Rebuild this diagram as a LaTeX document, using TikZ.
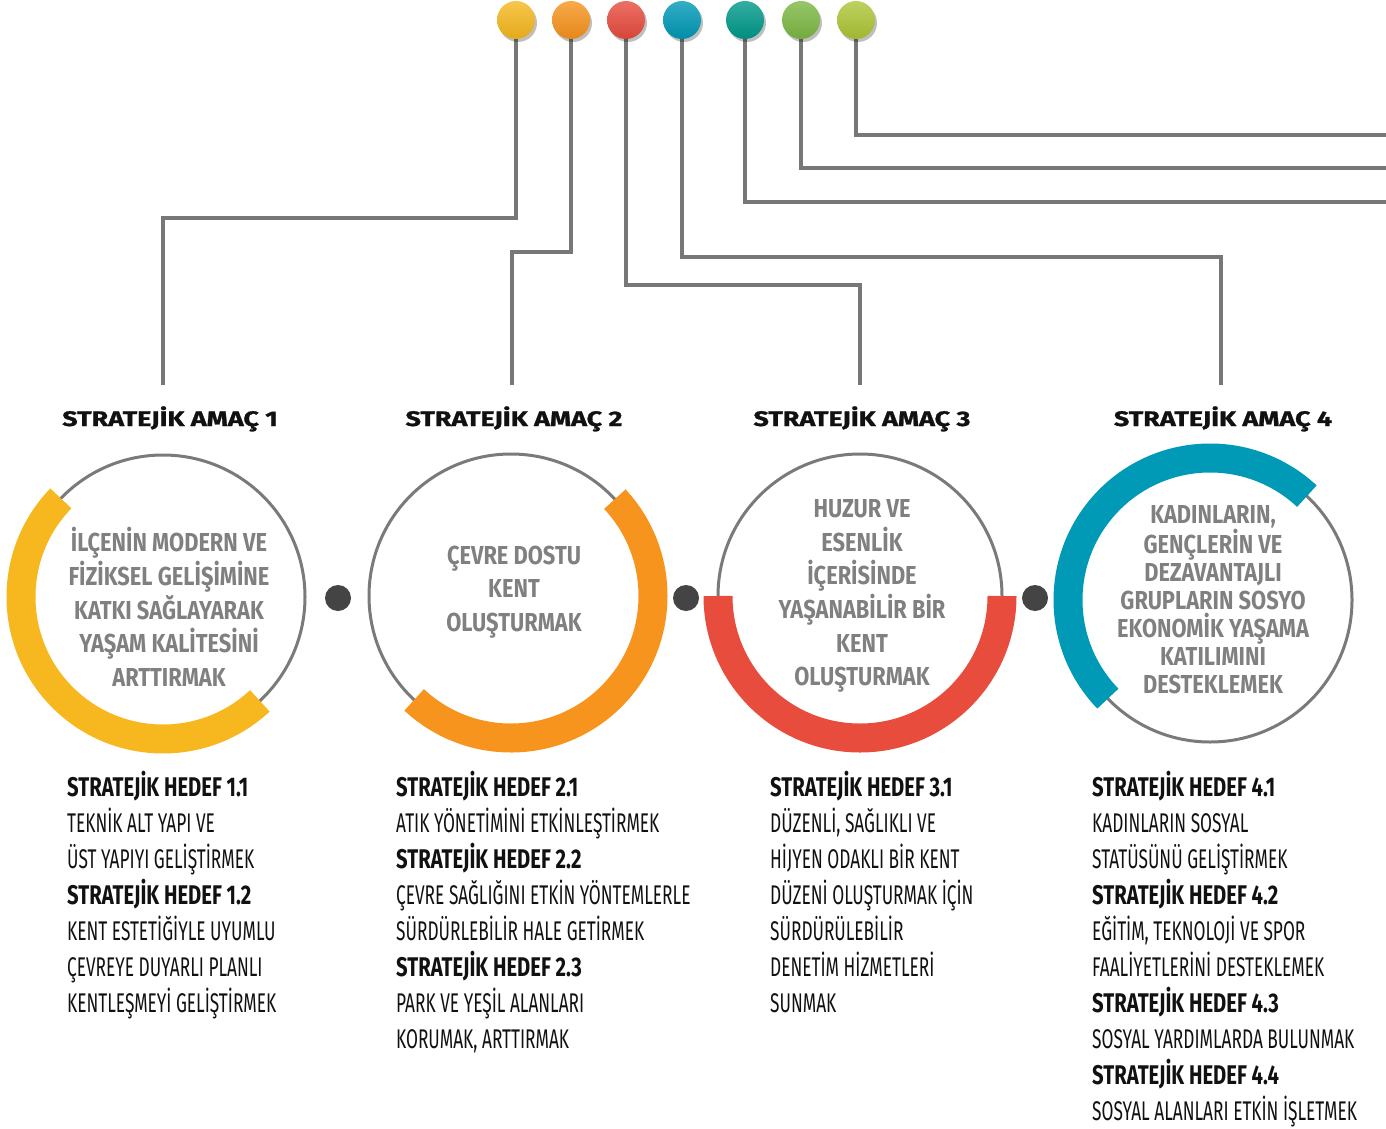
\documentclass[tikz,border=0pt]{standalone}
\usepackage{fontspec}
\setmainfont{Fira Sans}
\newfontfamily\narrowfont{Fira Sans}[FakeStretch=0.64]
\newfontfamily\hedeffont{Fira Sans}[FakeStretch=0.75]
\newfontfamily\ringfont{Fira Sans}[FakeStretch=0.84]
\newfontfamily\headfont{Fira Sans}[FakeStretch=1.28, FakeBold=1.2]
\usetikzlibrary{backgrounds,shadows}

\definecolor{wiregray}{HTML}{777777}
\definecolor{ringgray}{HTML}{7A7A7A}
\definecolor{textgray}{HTML}{808080}
\definecolor{dotgray}{HTML}{444444}
\definecolor{inkblack}{HTML}{111111}
\definecolor{amacA}{HTML}{F6B81E}
\definecolor{amacB}{HTML}{F7941D}
\definecolor{amacC}{HTML}{E84C3D}
\definecolor{amacD}{HTML}{0099B6}
\definecolor{tealk}{HTML}{00998A}
\definecolor{greenk}{HTML}{7DB843}
\definecolor{limek}{HTML}{ADC636}

\newcommand{\hedef}[1]{{\hedeffont\bfseries #1}}

\tikzset{
  knob/.style={circle, minimum size=38pt, inner sep=0pt,
    top color=#1!80!white, bottom color=#1!92!black,
    drop shadow={shadow xshift=2pt, shadow yshift=-3pt, opacity=0.25, fill=black}},
  wire/.style={draw=wiregray, line width=4pt},
  goalcircle/.style={circle, draw=ringgray, line width=3pt, minimum size=284pt, inner sep=0pt},
  ring/.style={draw=#1, line width=29pt},
  hub/.style={circle, fill=dotgray, minimum size=26pt, inner sep=0pt},
  goaltitle/.style={anchor=base, inner sep=0pt, text=inkblack,
    font=\headfont\bfseries\fontsize{21}{24}\selectfont},
  ringtext/.style={align=center, inner sep=0pt, text=textgray,
    font=\ringfont\bfseries\fontsize{26}{33.7}\selectfont},
  targets/.style={anchor=north west, align=left, inner sep=0pt, text=inkblack,
    font=\narrowfont\fontsize{27}{36}\selectfont}
}

\begin{document}
\begin{tikzpicture}[x=1pt, y=1pt]
	\useasboundingbox (0,0) rectangle (1386,-1129);
	
	% knobs on top
	\node[knob=amacA] (knob1) at (516,-20) {};
	\node[knob=amacB] (knob2) at (571,-20) {};
	\node[knob=amacC] (knob3) at (626,-20) {};
	\node[knob=amacD] (knob4) at (682,-20) {};
	\node[knob=tealk] (knob5) at (745,-20) {};
	\node[knob=greenk] (knob6) at (801,-20) {};
	\node[knob=limek] (knob7) at (856,-20) {};
	
	\node[goaltitle] (goal1) at (170,-426) {STRATEJİK AMAÇ 1};
	\node[goaltitle] (goal2) at (514,-426) {STRATEJİK AMAÇ 2};
	\node[goaltitle] (goal3) at (862,-426) {STRATEJİK AMAÇ 3};
	\node[goaltitle] (goal4) at (1223,-426) {STRATEJİK AMAÇ 4};
	
	\coordinate (top1) at (163,-385);
	\coordinate (top2) at (512,-385);
	\coordinate (top3) at (860,-385);
	\coordinate (top4) at (1221,-385);
	\coordinate (edge5) at (1386,-202);
	\coordinate (edge6) at (1386,-168);
	\coordinate (edge7) at (1386,-135);
	
	\begin{scope}[on background layer]
	\draw[wire] (knob1.center) |- (top1 |- 0,-218) -- (top1);
	\draw[wire] (knob2.center) |- (top2 |- 0,-252) -- (top2);
	\draw[wire] (knob3.center) |- (top3 |- 0,-285) -- (top3);
	\draw[wire] (knob4.center) |- (top4 |- 0,-257) -- (top4);
	\draw[wire] (knob5.center) |- (edge5);
	\draw[wire] (knob6.center) |- (edge6);
	\draw[wire] (knob7.center) |- (edge7);
	\end{scope}
	
	% circles
	\node[goalcircle] (ring1) at (163,-597) {};
	\node[goalcircle] (ring2) at (511,-596) {};
	\node[goalcircle] (ring3) at (860,-596) {};
	\node[goalcircle] (ring4) at (1210,-600) {};
	
	\draw[ring=amacA] ([shift={(136:142)}]ring1.center) arc[start angle=136, end angle=313, radius=142];
	\draw[ring=amacB] ([shift={(-133:142)}]ring2.center) arc[start angle=-133, end angle=43, radius=142];
	\draw[ring=amacC] ([shift={(180:142)}]ring3.center) arc[start angle=180, end angle=360, radius=142];
	\draw[ring=amacD] ([shift={(47:142)}]ring4.center) arc[start angle=47, end angle=224, radius=142];
	
	\node[hub] (hub12) at (338,-598) {};
	\node[hub] (hub23) at (686,-598) {};
	\node[hub] (hub34) at (1035,-598) {};
	
	\node[ringtext] (aim1) at (169,-607) {İLÇENİN MODERN VE\\FİZİKSEL GELİŞİMİNE\\KATKI SAĞLAYARAK\\YAŞAM KALİTESİNİ\\ARTTIRMAK};
	\node[ringtext] (aim2) at (514,-592) {ÇEVRE DOSTU\\KENT\\OLUŞTURMAK};
	\node[ringtext] (aim3) at (862,-596) {HUZUR VE\\ESENLİK\\İÇERİSİNDE\\YAŞANABİLİR BİR\\KENT\\OLUŞTURMAK};
	\node[ringtext, font=\ringfont\bfseries\fontsize{26}{28}\selectfont] (aim4) at (1213,-600) {KADINLARIN,\\GENÇLERİN VE\\DEZAVANTAJLI\\GRUPLARIN SOSYO\\EKONOMİK YAŞAMA\\KATILIMINI\\DESTEKLEMEK};
	
	% hedefler
	\node[targets] (list1) at (67,-771) {\hedef{STRATEJİK HEDEF 1.1}\\TEKNİK ALT YAPI VE\\ÜST YAPIYI GELİŞTİRMEK\\\hedef{STRATEJİK HEDEF 1.2}\\KENT ESTETİĞİYLE UYUMLU\\ÇEVREYE DUYARLI PLANLI\\KENTLEŞMEYİ GELİŞTİRMEK};
	\node[targets] (list2) at (396,-771) {\hedef{STRATEJİK HEDEF 2.1}\\ATIK YÖNETİMİNİ ETKİNLEŞTİRMEK\\\hedef{STRATEJİK HEDEF 2.2}\\ÇEVRE SAĞLIĞINI ETKİN YÖNTEMLERLE\\SÜRDÜRLEBİLİR HALE GETİRMEK\\\hedef{STRATEJİK HEDEF 2.3}\\PARK VE YEŞİL ALANLARI\\KORUMAK, ARTTIRMAK};
	\node[targets] (list3) at (770,-771) {\hedef{STRATEJİK HEDEF 3.1}\\DÜZENLİ, SAĞLIKLI VE\\HİJYEN ODAKLI BİR KENT\\DÜZENİ OLUŞTURMAK İÇİN\\SÜRDÜRÜLEBİLİR\\DENETİM HİZMETLERİ\\SUNMAK};
	\node[targets] (list4) at (1092,-771) {\hedef{STRATEJİK HEDEF 4.1}\\KADINLARIN SOSYAL\\STATÜSÜNÜ GELİŞTİRMEK\\\hedef{STRATEJİK HEDEF 4.2}\\EĞİTİM, TEKNOLOJİ VE SPOR\\FAALİYETLERİNİ DESTEKLEMEK\\\hedef{STRATEJİK HEDEF 4.3}\\SOSYAL YARDIMLARDA BULUNMAK\\\hedef{STRATEJİK HEDEF 4.4}\\SOSYAL ALANLARI ETKİN İŞLETMEK};
	
\end{tikzpicture}
\end{document}
